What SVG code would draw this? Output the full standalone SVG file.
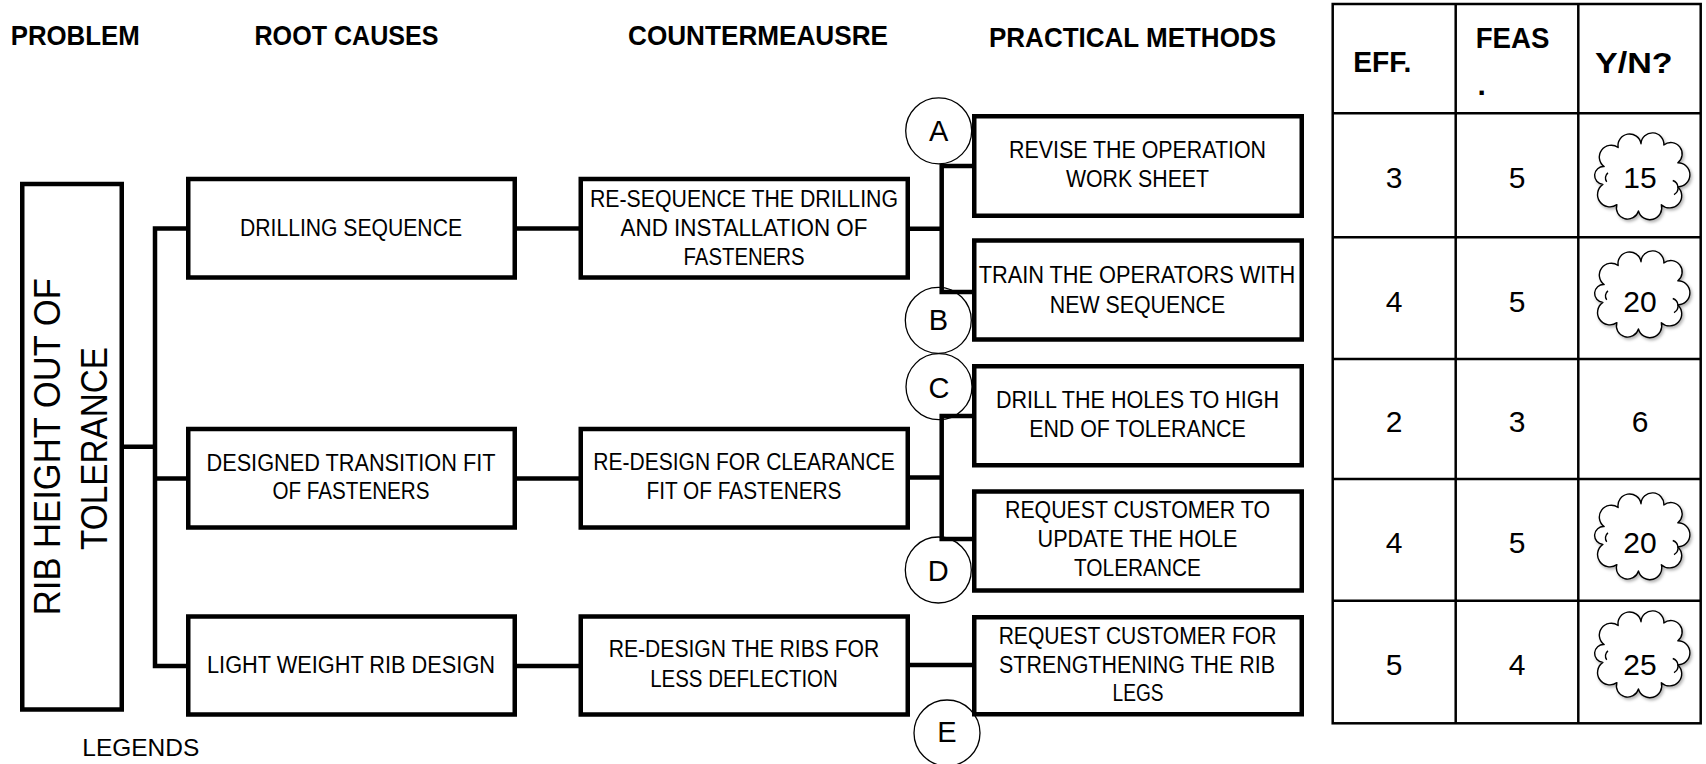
<svg xmlns="http://www.w3.org/2000/svg" width="1706" height="764" viewBox="0 0 1706 764">
<style>
text{font-family:"Liberation Sans",Arial,sans-serif;fill:#000}
.h{font-size:28px;font-weight:bold}
.t{font-size:23.5px;text-anchor:middle}
.pt{font-size:37px;text-anchor:middle}
.box{fill:#fff;stroke:#000;stroke-width:4.5}
.conn{fill:none;stroke:#000;stroke-width:4.5;stroke-linejoin:miter}
.circ{fill:#fff;stroke:#000;stroke-width:1.3}
.cl{font-size:29px;text-anchor:middle}
.tbl{fill:none;stroke:#000;stroke-width:2.5}
.num{font-size:30px;text-anchor:middle}
.th{font-size:30px;font-weight:bold}
.cloud{fill:#fff;stroke:#000;stroke-width:1.1;stroke-linejoin:round}
.fold{fill:none;stroke:#000;stroke-width:1.1}
</style>
<defs>
<filter id="sh" x="-20%" y="-20%" width="140%" height="140%">
<feDropShadow dx="1.2" dy="1.6" stdDeviation="1.2" flood-color="#000" flood-opacity="0.3"/>
</filter>
<g id="cloud">
<path class="cloud" filter="url(#sh)" d="M-29,-9 A1 1 0 0 1 -18,-24 A1 1 0 0 1 0,-27 A1 1 0 0 1 18,-26 A1 1 0 0 1 29,-12 A1 1 0 0 1 29,7 A1 1 0 0 1 16,21 A1 1 0 0 1 -2,26 A1 1 0 0 1 -19,21 A1 1 0 0 1 -30,5 A1 1 0 0 1 -29,-9 Z"/>
<path class="fold" d="M25,2 A6 6 0 0 1 26,13"/>
<path class="fold" d="M-26,-4 A5 5 0 0 0 -27,3"/>
</g>
</defs>
<rect width="1706" height="764" fill="#fff"/>

<g id="headers">
<text class="h" x="10.7" y="45" textLength="129" lengthAdjust="spacingAndGlyphs">PROBLEM</text>
<text class="h" x="254.5" y="45" textLength="184" lengthAdjust="spacingAndGlyphs">ROOT CAUSES</text>
<text class="h" x="628" y="45" textLength="260" lengthAdjust="spacingAndGlyphs">COUNTERMEAUSRE</text>
<text class="h" x="989" y="46.7" textLength="287" lengthAdjust="spacingAndGlyphs">PRACTICAL METHODS</text>
</g>

<g id="labels">
<g id="label-A"><circle class="circ" cx="938.7" cy="130.8" r="33"/><text class="cl" x="938.7" y="141">A</text></g>
<g id="label-B"><circle class="circ" cx="938.3" cy="320.3" r="33"/><text class="cl" x="938.3" y="330">B</text></g>
<g id="label-C"><circle class="circ" cx="939" cy="386.7" r="33"/><text class="cl" x="939" y="398">C</text></g>
<g id="label-D"><circle class="circ" cx="938.3" cy="570" r="33"/><text class="cl" x="938.3" y="580.5">D</text></g>
<g id="label-E"><circle class="circ" cx="947" cy="733" r="33"/><text class="cl" x="947" y="742">E</text></g>
</g>

<g id="connectors">
<path class="conn" d="M121.5,446.7 H155"/>
<path class="conn" d="M188,228.5 H155 V666 H188"/>
<path class="conn" d="M155,478.5 H188"/>
<path class="conn" d="M517,228.5 H581"/>
<path class="conn" d="M517,478.5 H581"/>
<path class="conn" d="M517,666 H581"/>
<path class="conn" d="M908,228.7 H941.7"/>
<path class="conn" d="M974,166 H941.7 V292 H974"/>
<path class="conn" d="M908,477.5 H941.7"/>
<path class="conn" d="M974,416 H941.7 V539 H974"/>
<path class="conn" d="M908,665 H974"/>
</g>

<g id="problem">
<rect class="box" x="22.25" y="184" width="99.5" height="525.5"/>
<text class="pt" transform="translate(60,446.7) rotate(-90)" textLength="337" lengthAdjust="spacingAndGlyphs">RIB HEIGHT OUT OF</text>
<text class="pt" transform="translate(106.7,448.4) rotate(-90)" textLength="203" lengthAdjust="spacingAndGlyphs">TOLERANCE</text>
</g>

<g id="cause-drilling">
<rect class="box" x="188.25" y="179" width="326.5" height="98.5"/>
<text class="t" x="351" y="236" textLength="222" lengthAdjust="spacingAndGlyphs">DRILLING SEQUENCE</text>
</g>
<g id="cause-transition">
<rect class="box" x="188.25" y="429" width="326.5" height="98.5"/>
<text class="t" x="351" y="470.7" textLength="289" lengthAdjust="spacingAndGlyphs">DESIGNED TRANSITION FIT</text>
<text class="t" x="351" y="499.3" textLength="157" lengthAdjust="spacingAndGlyphs">OF FASTENERS</text>
</g>
<g id="cause-lightweight">
<rect class="box" x="188.25" y="616.5" width="326.5" height="98"/>
<text class="t" x="351" y="672.7" textLength="288" lengthAdjust="spacingAndGlyphs">LIGHT WEIGHT RIB DESIGN</text>
</g>

<g id="cm-resequence">
<rect class="box" x="580.75" y="179" width="327" height="98.5"/>
<text class="t" x="744" y="206.7" textLength="308" lengthAdjust="spacingAndGlyphs">RE-SEQUENCE THE DRILLING</text>
<text class="t" x="744" y="235.7" textLength="247" lengthAdjust="spacingAndGlyphs">AND INSTALLATION OF</text>
<text class="t" x="744" y="265" textLength="121" lengthAdjust="spacingAndGlyphs">FASTENERS</text>
</g>
<g id="cm-clearance">
<rect class="box" x="580.75" y="429" width="327" height="98.5"/>
<text class="t" x="744" y="470" textLength="301.5" lengthAdjust="spacingAndGlyphs">RE-DESIGN FOR CLEARANCE</text>
<text class="t" x="744" y="499.3" textLength="195" lengthAdjust="spacingAndGlyphs">FIT OF FASTENERS</text>
</g>
<g id="cm-ribs">
<rect class="box" x="580.75" y="616.5" width="327" height="98"/>
<text class="t" x="744" y="656.7" textLength="270.5" lengthAdjust="spacingAndGlyphs">RE-DESIGN THE RIBS FOR</text>
<text class="t" x="744" y="686.7" textLength="187.6" lengthAdjust="spacingAndGlyphs">LESS DEFLECTION</text>
</g>

<g id="method-A">
<rect class="box" x="974.25" y="116.25" width="327.5" height="99.5"/>
<text class="t" x="1137.5" y="158.3" textLength="257" lengthAdjust="spacingAndGlyphs">REVISE THE OPERATION</text>
<text class="t" x="1137.5" y="187.3" textLength="143" lengthAdjust="spacingAndGlyphs">WORK SHEET</text>
</g>
<g id="method-B">
<rect class="box" x="974.25" y="240.5" width="327.5" height="99"/>
<text class="t" x="1137" y="283.3" textLength="316.6" lengthAdjust="spacingAndGlyphs">TRAIN THE OPERATORS WITH</text>
<text class="t" x="1137.5" y="313.3" textLength="175.5" lengthAdjust="spacingAndGlyphs">NEW SEQUENCE</text>
</g>
<g id="method-C">
<rect class="box" x="974.25" y="366.25" width="327.5" height="99"/>
<text class="t" x="1137.5" y="408.3" textLength="283" lengthAdjust="spacingAndGlyphs">DRILL THE HOLES TO HIGH</text>
<text class="t" x="1137.5" y="437.3" textLength="216.7" lengthAdjust="spacingAndGlyphs">END OF TOLERANCE</text>
</g>
<g id="method-D">
<rect class="box" x="974.25" y="491.5" width="327.5" height="99"/>
<text class="t" x="1137.5" y="518.3" textLength="265" lengthAdjust="spacingAndGlyphs">REQUEST CUSTOMER TO</text>
<text class="t" x="1137.5" y="547.3" textLength="200" lengthAdjust="spacingAndGlyphs">UPDATE THE HOLE</text>
<text class="t" x="1137.5" y="576" textLength="127" lengthAdjust="spacingAndGlyphs">TOLERANCE</text>
</g>
<g id="method-E">
<rect class="box" x="974.25" y="617.25" width="327.5" height="97"/>
<text class="t" x="1137.5" y="644" textLength="277.7" lengthAdjust="spacingAndGlyphs">REQUEST CUSTOMER FOR</text>
<text class="t" x="1137" y="672.7" textLength="276" lengthAdjust="spacingAndGlyphs">STRENGTHENING THE RIB</text>
<text class="t" x="1138" y="700.7" textLength="51" lengthAdjust="spacingAndGlyphs">LEGS</text>
</g>

<text id="legends" x="82.3" y="756" font-size="24.5" textLength="117" lengthAdjust="spacingAndGlyphs">LEGENDS</text>

<g id="score-table">
<rect class="tbl" x="1332.7" y="4" width="368" height="719.3"/>
<path class="tbl" d="M1455.7,4 V723.3 M1578.3,4 V723.3 M1332.7,113.3 H1700.7 M1332.7,237.3 H1700.7 M1332.7,359 H1700.7 M1332.7,479 H1700.7 M1332.7,600.7 H1700.7"/>
<text class="th" x="1353.3" y="71.7" textLength="58" lengthAdjust="spacingAndGlyphs">EFF.</text>
<text class="th" x="1475.7" y="48.3" textLength="73.7" lengthAdjust="spacingAndGlyphs">FEAS</text>
<text class="th" x="1477.5" y="95">.</text>
<text class="th" x="1595" y="72.7" textLength="77.7" lengthAdjust="spacingAndGlyphs">Y/N?</text>
<use href="#cloud" transform="translate(1641,178) scale(1.27)"/>
<use href="#cloud" transform="translate(1641,296) scale(1.27)"/>
<use href="#cloud" transform="translate(1641,538) scale(1.27)"/>
<use href="#cloud" transform="translate(1641,656) scale(1.27)"/>
<text class="num" x="1394" y="188.3">3</text><text class="num" x="1517" y="188.3">5</text><text class="num" x="1640" y="188.3">15</text>
<text class="num" x="1394" y="311.7">4</text><text class="num" x="1517" y="311.7">5</text><text class="num" x="1640" y="311.7">20</text>
<text class="num" x="1394" y="431.7">2</text><text class="num" x="1517" y="431.7">3</text><text class="num" x="1640" y="431.7">6</text>
<text class="num" x="1394" y="553.3">4</text><text class="num" x="1517" y="553.3">5</text><text class="num" x="1640" y="553.3">20</text>
<text class="num" x="1394" y="675">5</text><text class="num" x="1517" y="675">4</text><text class="num" x="1640" y="675">25</text>
</g>
</svg>
